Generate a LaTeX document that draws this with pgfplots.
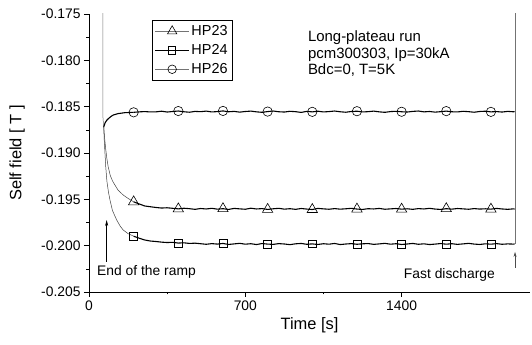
\documentclass[border=0pt]{standalone}
\usepackage{fontspec}
\setmainfont{Liberation Sans}
\usepackage{pgfplots}
\pgfplotsset{compat=1.18}
\usepackage{pgfplotstable}
\usetikzlibrary{arrows.meta}

\pgfplotstableread{
t hpa hpb hpc
200 -0.19527 -0.19898 -0.18561
225 -0.19550 -0.19920 -0.18556
250 -0.19572 -0.19939 -0.18553
275 -0.19580 -0.19950 -0.18557
300 -0.19588 -0.19955 -0.18556
325 -0.19594 -0.19962 -0.18549
350 -0.19591 -0.19966 -0.18558
375 -0.19597 -0.19964 -0.18552
400 -0.19603 -0.19972 -0.18547
425 -0.19596 -0.19969 -0.18555
450 -0.19601 -0.19976 -0.18560
475 -0.19608 -0.19973 -0.18551
500 -0.19599 -0.19979 -0.18554
525 -0.19604 -0.19985 -0.18548
550 -0.19597 -0.19978 -0.18557
575 -0.19606 -0.19983 -0.18553
600 -0.19601 -0.19976 -0.18546
625 -0.19609 -0.19987 -0.18555
650 -0.19598 -0.19981 -0.18551
675 -0.19603 -0.19975 -0.18559
700 -0.19607 -0.19984 -0.18552
725 -0.19596 -0.19979 -0.18548
750 -0.19604 -0.19988 -0.18556
775 -0.19600 -0.19977 -0.18561
800 -0.19609 -0.19983 -0.18553
825 -0.19602 -0.19986 -0.18547
850 -0.19597 -0.19978 -0.18555
875 -0.19606 -0.19982 -0.18558
900 -0.19601 -0.19989 -0.18550
925 -0.19608 -0.19980 -0.18554
950 -0.19599 -0.19976 -0.18562
975 -0.19605 -0.19985 -0.18551
1000 -0.19610 -0.19981 -0.18556
1025 -0.19598 -0.19987 -0.18549
1050 -0.19603 -0.19979 -0.18557
1075 -0.19607 -0.19984 -0.18553
1100 -0.19600 -0.19976 -0.18547
1125 -0.19606 -0.19988 -0.18555
1150 -0.19602 -0.19982 -0.18560
1175 -0.19597 -0.19978 -0.18552
1200 -0.19605 -0.19985 -0.18549
1225 -0.19609 -0.19980 -0.18557
1250 -0.19601 -0.19977 -0.18554
1275 -0.19604 -0.19986 -0.18548
1300 -0.19598 -0.19981 -0.18556
1325 -0.19607 -0.19975 -0.18561
1350 -0.19603 -0.19984 -0.18553
1375 -0.19599 -0.19979 -0.18550
1400 -0.19606 -0.19987 -0.18555
1425 -0.19602 -0.19982 -0.18558
1450 -0.19608 -0.19976 -0.18551
1475 -0.19600 -0.19985 -0.18547
1500 -0.19604 -0.19980 -0.18556
1525 -0.19597 -0.19988 -0.18552
1550 -0.19605 -0.19983 -0.18559
1575 -0.19609 -0.19977 -0.18554
1600 -0.19601 -0.19984 -0.18548
1625 -0.19606 -0.19979 -0.18555
1650 -0.19599 -0.19986 -0.18557
1675 -0.19603 -0.19981 -0.18550
1700 -0.19607 -0.19975 -0.18554
1725 -0.19600 -0.19983 -0.18560
1750 -0.19605 -0.19987 -0.18552
1775 -0.19602 -0.19980 -0.18549
1800 -0.19606 -0.19984 -0.18556
1825 -0.19598 -0.19978 -0.18553
1850 -0.19604 -0.19985 -0.18558
1875 -0.19608 -0.19981 -0.18551
1900 -0.19603 -0.19983 -0.18555
1906 -0.19605 -0.19982 -0.18554
}\main

\pgfplotstableread{
t y
66 -0.18720
70 -0.18840
75 -0.18960
80 -0.19060
86 -0.19150
95 -0.19240
105 -0.19300
116 -0.19345
130 -0.19400
153 -0.19453
175 -0.19490
200 -0.19527
}\earlya

\pgfplotstableread{
t y
66 -0.18720
68 -0.18850
72 -0.19020
75 -0.19148
80 -0.19300
87 -0.19420
94 -0.19507
105 -0.19620
124 -0.19723
140 -0.19790
153 -0.19831
175 -0.19870
200 -0.19898
}\earlyb

\pgfplotstableread{
t y
66 -0.18720
72 -0.18675
80 -0.18645
90 -0.18622
100 -0.18603
109 -0.18590
130 -0.18575
160 -0.18565
200 -0.18561
}\earlyc

\begin{document}
\begin{tikzpicture}
\begin{axis}[
  name=ax,
  scale only axis, width=441bp, height=278bp,
  xmin=0, xmax=1975, ymin=-0.205, ymax=-0.175,
  axis x line*=bottom, axis y line*=left,
  axis line style={-, line width=0.7pt, black},
  tick align=outside,
  major tick length=5bp, minor tick length=2.5bp,
  tick style={line width=0.6pt, black},
  xtick={0,700,1400}, minor x tick num=1,
  ytick={-0.205,-0.200,-0.195,-0.190,-0.185,-0.180,-0.175}, minor y tick num=1,
  scaled y ticks=false, scaled x ticks=false,
  /pgf/number format/assume math mode=true,
  yticklabel style={/pgf/number format/.cd, fixed, fixed zerofill, precision=3},
  xticklabel style={/pgf/number format/.cd, fixed, precision=0, 1000 sep={}},
  ticklabel style={font=\fontsize{13.9}{16}\selectfont},
  xlabel={Time [s]}, ylabel={Self field [ T ]},
  xlabel style={font=\fontsize{16.5}{19}\selectfont, at={(axis description cs:0.5,-0.119)}, anchor=center},
  ylabel style={font=\fontsize{16.5}{19}\selectfont, at={(axis description cs:-0.163,0.5)}, anchor=center},
  legend style={at={(0.142,0.978)}, anchor=north west, draw=black, line width=0.5pt,
    font=\fontsize{14.5}{16}\selectfont, row sep=3.5bp, inner xsep=3bp, inner ysep=3bp, cells={anchor=west}},
  legend image code/.code={\draw[mark repeat=2,mark phase=2,#1] plot coordinates {(0bp,0bp) (17bp,0bp) (34bp,0bp)};},
]
% ramp and discharge (thin)
\addplot[forget plot, black!55, line width=0.5pt] coordinates {(62,-0.170) (62,-0.1860) (66,-0.18720)};
\addplot[forget plot, black!55, line width=0.5pt] coordinates {(1908,-0.19982) (1908,-0.170)};
% early thin parts
\addplot[forget plot, black!75, line width=0.5pt] table[x=t,y=y] {\earlya};
\addplot[forget plot, black!75, line width=0.5pt] table[x=t,y=y] {\earlyb};
\addplot[forget plot, black, line width=1.1pt] table[x=t,y=y] {\earlyc};
% plateau (thick noisy)
\addplot[forget plot, black, line width=1.1pt] table[x=t,y=hpa] {\main};
\addplot[forget plot, black, line width=1.1pt] table[x=t,y=hpb] {\main};
\addplot[forget plot, black, line width=1.1pt] table[x=t,y=hpc] {\main};
% markers
\addplot[forget plot, only marks, mark=triangle, mark size=6pt, mark options={fill=white, draw=black, line width=0.6pt}] coordinates {
(200,-0.19527) (400,-0.19603) (600,-0.19601) (800,-0.19609) (1000,-0.19610) (1200,-0.19605) (1400,-0.19606) (1600,-0.19601) (1800,-0.19606)};
\addplot[forget plot, only marks, mark=square, mark size=3.9pt, mark options={fill=white, draw=black, line width=0.6pt}] coordinates {
(200,-0.19898) (400,-0.19972) (600,-0.19976) (800,-0.19983) (1000,-0.19981) (1200,-0.19985) (1400,-0.19987) (1600,-0.19984) (1800,-0.19984)};
\addplot[forget plot, only marks, mark=o, mark size=4.7pt, mark options={fill=white, draw=black, line width=0.6pt}] coordinates {
(200,-0.18561) (400,-0.18547) (600,-0.18546) (800,-0.18553) (1000,-0.18556) (1200,-0.18549) (1400,-0.18555) (1600,-0.18548) (1800,-0.18556)};
% legend
\addlegendimage{black!55, line width=0.5pt, mark=triangle, mark size=5.4pt, mark options={fill=white, draw=black, line width=0.6pt}}
\addlegendentry{HP23}
\addlegendimage{black, line width=0.6pt, mark=square, mark size=3.6pt, mark options={fill=white, draw=black, line width=0.6pt}}
\addlegendentry{HP24}
\addlegendimage{black!55, line width=0.5pt, mark=o, mark size=4.3pt, mark options={fill=white, draw=black, line width=0.6pt}}
\addlegendentry{HP26}
% annotations
\node[anchor=north west, align=left, inner sep=0pt, font=\fontsize{15}{16.3}\selectfont] at (axis cs:980,-0.17683) {Long-plateau run\\pcm300303, Ip=30kA\\Bdc=0, T=5K};
\draw[-{Stealth[length=6bp,width=3bp]}, line width=0.5pt] (axis cs:79,-0.20173) -- (axis cs:79,-0.19723);
\node[anchor=west, inner sep=0pt, font=\fontsize{13.9}{16}\selectfont] at (axis cs:36,-0.20285) {End of the ramp};
\draw[-{Stealth[length=5bp,width=3bp]}, line width=0.5pt, black!70] (axis cs:1908,-0.20241) -- (axis cs:1908,-0.20068);
\node[anchor=center, inner sep=0pt, font=\fontsize{13.9}{16}\selectfont] at (axis cs:1614,-0.20317) {Fast discharge};
\end{axis}
\pgfresetboundingbox
\path[use as bounding box] ([xshift=-89bp,yshift=-53bp]ax.south west) rectangle ([xshift=2bp,yshift=14bp]ax.north east);
\end{tikzpicture}
\end{document}
